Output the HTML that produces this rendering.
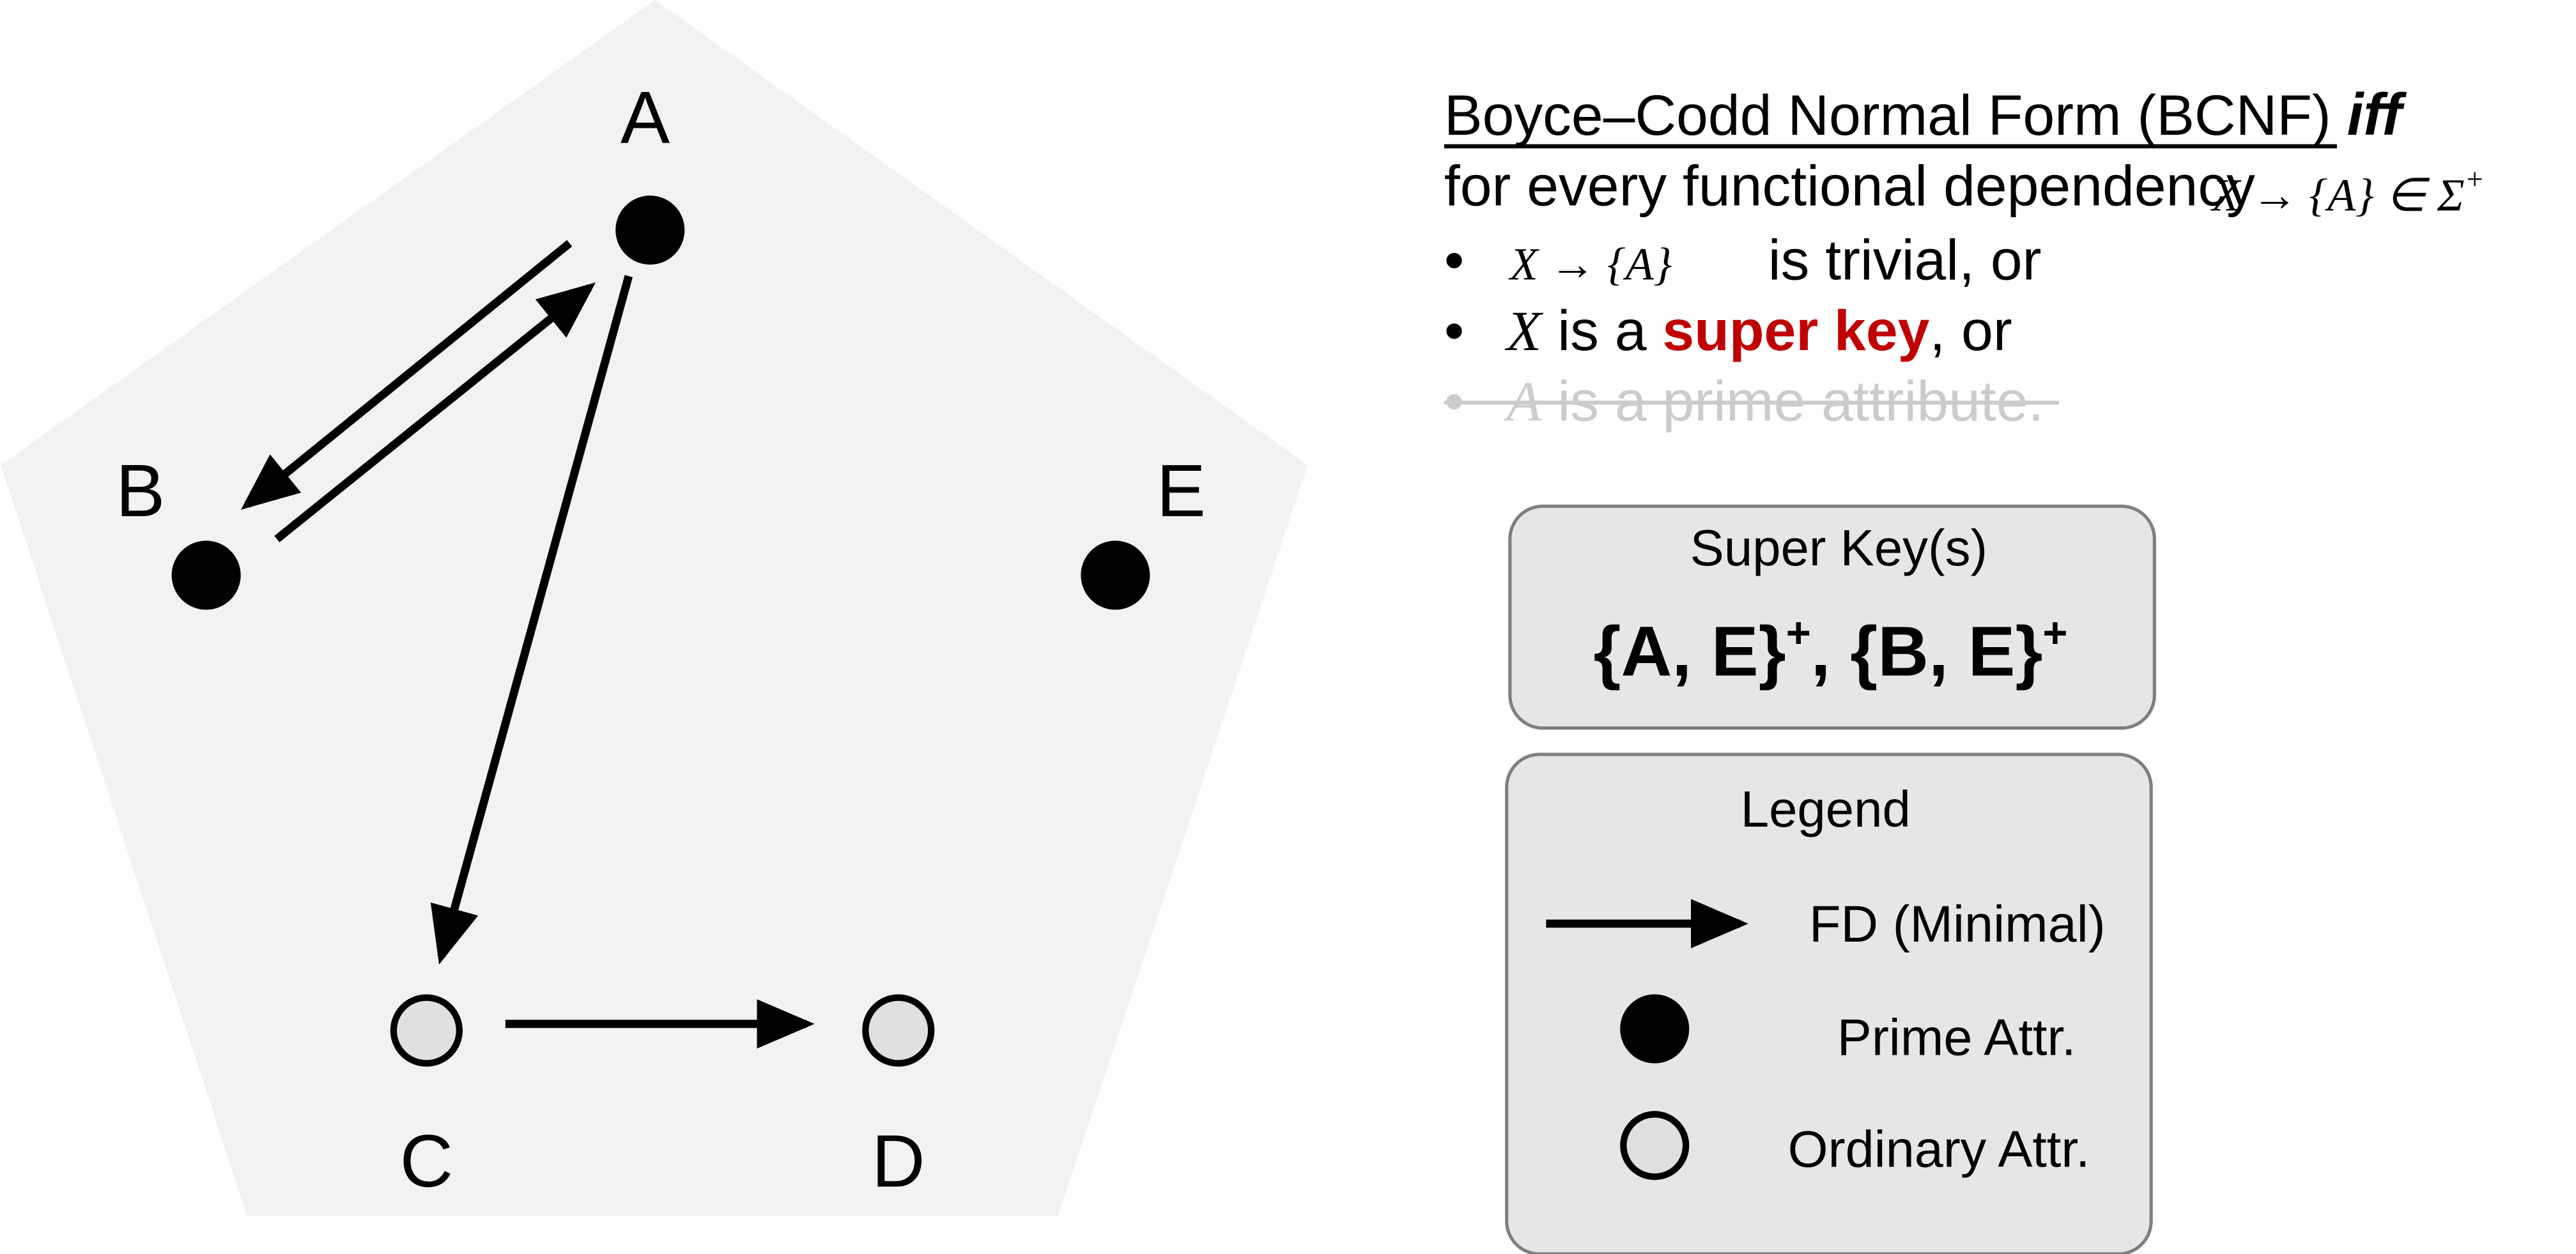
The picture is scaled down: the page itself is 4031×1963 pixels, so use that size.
<!DOCTYPE html>
<html><head><meta charset="utf-8"><style>html,body{margin:0;padding:0;background:#fff;overflow:hidden}svg{display:block}</style></head>
<body>
<svg width="4031" height="1963" viewBox="0 0 1566 763" xmlns="http://www.w3.org/2000/svg" font-family="Liberation Sans, sans-serif">
<defs><marker id="ah" markerWidth="7" markerHeight="6" refX="6" refY="3" orient="auto" markerUnits="strokeWidth"><path d="M0,0 L7,3 L0,6 z" fill="#000"/></marker></defs>
<polygon points="398,0 795,283 643,740 150,740 0,283" fill="#f2f2f2"/>
<g stroke="#000" stroke-width="5" fill="none">
<line x1="346" y1="148" x2="150" y2="307" marker-end="url(#ah)"/>
<line x1="168" y1="328" x2="358" y2="175" marker-end="url(#ah)"/>
<line x1="382" y1="168" x2="268" y2="582" marker-end="url(#ah)"/>
<line x1="307" y1="623" x2="490" y2="623" marker-end="url(#ah)"/>
</g>
<circle cx="395" cy="140" r="21" fill="#000"/>
<circle cx="125" cy="350" r="21" fill="#000"/>
<circle cx="678" cy="350" r="21" fill="#000"/>
<circle cx="259" cy="627" r="20" fill="#e0e0e0" stroke="#000" stroke-width="4"/>
<circle cx="546" cy="627" r="20" fill="#e0e0e0" stroke="#000" stroke-width="4"/>
<g font-size="45" text-anchor="middle">
<text x="392" y="87">A</text>
<text x="85" y="314">B</text>
<text x="718" y="314">E</text>
<text x="259" y="722">C</text>
<text x="546" y="722">D</text>
</g>
<g font-size="34.8">
<text x="878" y="82">Boyce–Codd Normal Form (BCNF) <tspan font-weight="bold" font-style="italic" font-size="36">iff</tspan></text>
<line x1="878" y1="89" x2="1421" y2="89" stroke="#000" stroke-width="2.5"/>
<text x="878" y="125">for every functional dependency</text>
<text x="1345" y="128" style="font-family:'Liberation Serif',serif;font-style:italic" font-size="28">X → {A} ∈ Σ<tspan font-size="18" dy="-13">+</tspan></text>
<text x="878" y="170">•</text>
<text x="918" y="170" style="font-family:'Liberation Serif',serif;font-style:italic" font-size="28">X → {A}</text>
<text x="1075" y="170">is trivial, or</text>
<text x="878" y="213">•</text>
<text x="916" y="213"><tspan style="font-family:'Liberation Serif',serif;font-style:italic">X</tspan> is a <tspan fill="#c00000" font-weight="bold">super key</tspan>, or</text>
<text x="878" y="256" fill="#cccccc">•</text>
<text x="916" y="256" fill="#cccccc"><tspan style="font-family:'Liberation Serif',serif;font-style:italic">A</tspan> is a prime attribute.</text>
<line x1="878" y1="245" x2="1252" y2="245" stroke="#cccccc" stroke-width="2.5"/>
</g>
<rect x="918" y="308" width="392" height="135" rx="20" fill="#e6e6e6" stroke="#7f7f7f" stroke-width="2"/>
<text x="1118" y="344" font-size="31" text-anchor="middle">Super Key(s)</text>
<text x="1113" y="411" font-size="43" font-weight="bold" text-anchor="middle">{A, E}<tspan font-size="26" dy="-17">+</tspan><tspan dy="17">, {B, E}</tspan><tspan font-size="26" dy="-17">+</tspan></text>
<rect x="916" y="459" width="392" height="304" rx="20" fill="#e6e6e6" stroke="#7f7f7f" stroke-width="2"/>
<text x="1110" y="503" font-size="31" text-anchor="middle">Legend</text>
<line x1="940" y1="562" x2="1058" y2="562" stroke="#000" stroke-width="5" marker-end="url(#ah)"/>
<text x="1100" y="573" font-size="31.5">FD (Minimal)</text>
<circle cx="1006" cy="626" r="21" fill="#000"/>
<text x="1117" y="642" font-size="31.5">Prime Attr.</text>
<circle cx="1006" cy="697" r="19" fill="#e0e0e0" stroke="#000" stroke-width="4"/>
<text x="1087" y="710" font-size="31.5">Ordinary Attr.</text>
</svg>
</body></html>
